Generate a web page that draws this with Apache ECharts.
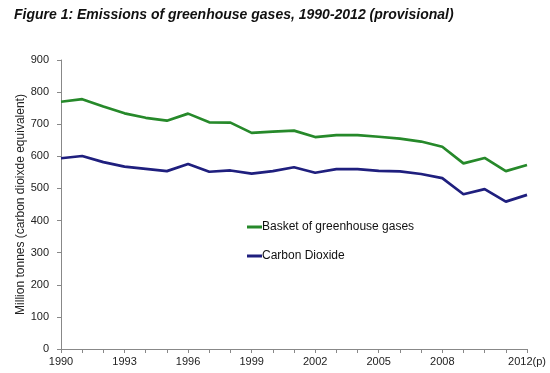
<!DOCTYPE html>
<html>
<head>
<meta charset="utf-8">
<script src="https://cdn.jsdelivr.net/npm/echarts@6/dist/echarts.min.js"></script>
<style>
html,body{margin:0;padding:0;background:#fff;}
#c{width:550px;height:373px;}
</style>
</head>
<body>
<div id="c"></div>
<script>
const years = ["1990","1991","1992","1993","1994","1995","1996","1997","1998","1999","2000","2001","2002","2003","2004","2005","2006","2007","2008","2009","2010","2011","2012(p)"];
const basketGHG = [770,778,755,734,720,711,733,706,705,673,677,680,660,666,666,661,655,646,630,578,595,554,573];
const carbonDioxide = [594,601,582,568,561,554,576,552,556,546,554,566,549,560,560,555,553,545,532,482,498,459,480];
const yTicks = [0,100,200,300,400,500,600,700,800,900];

const chart = echarts.init(document.getElementById('c'), null, {renderer:'canvas'});
const font = 'Liberation Sans, Arial, sans-serif';
chart.setOption({
  animation:false,
  backgroundColor:'#fff',
  title:{
    text:'Figure 1: Emissions of greenhouse gases, 1990-2012 (provisional)',
    left:9, top:3,
    textStyle:{fontFamily:font, fontSize:14, fontWeight:'bold', fontStyle:'italic', color:'#111'}
  },
  legend:{
    orient:'vertical',
    left:242, top:216,
    itemGap:17,
    itemWidth:15, itemHeight:3,
    icon:'rect',
    textStyle:{fontFamily:font, fontSize:12, color:'#111', padding:[0,0,0,-5]},
    data:['Basket of greenhouse gases','Carbon Dioxide']
  },
  grid:{left:61, right:23, top:60, bottom:24, containLabel:false},
  xAxis:{
    type:'category',
    data:years,
    boundaryGap:false,
    axisLine:{lineStyle:{color:'#888', width:1}},
    axisTick:{show:true, interval:0, length:4, lineStyle:{color:'#888'}},
    axisLabel:{
      interval:function(i){ return (i%3===0 && i<=18) || i===22; },
      fontFamily:font, fontSize:11, color:'#222', margin:7
    },
    splitLine:{show:false}
  },
  yAxis:{
    type:'value',
    min:yTicks[0], max:yTicks[yTicks.length-1], interval:100,
    name:'Million tonnes (carbon dioixde equivalent)',
    nameLocation:'middle', nameGap:34, nameMoveOverlap:false,
    nameTextStyle:{fontFamily:font, fontSize:12, color:'#222'},
    axisLine:{show:true, lineStyle:{color:'#888', width:1}},
    axisTick:{show:true, length:4, lineStyle:{color:'#888'}},
    axisLabel:{fontFamily:font, fontSize:11, color:'#222', margin:12},
    splitLine:{show:false}
  },
  series:[
    {name:'Basket of greenhouse gases', type:'line', data:basketGHG, showSymbol:false, symbol:'none',
     lineStyle:{color:'#26892a', width:2.7}, itemStyle:{color:'#26892a'}},
    {name:'Carbon Dioxide', type:'line', data:carbonDioxide, showSymbol:false, symbol:'none',
     lineStyle:{color:'#1f1f7e', width:2.7}, itemStyle:{color:'#1f1f7e'}}
  ]
});
</script>
</body>
</html>
